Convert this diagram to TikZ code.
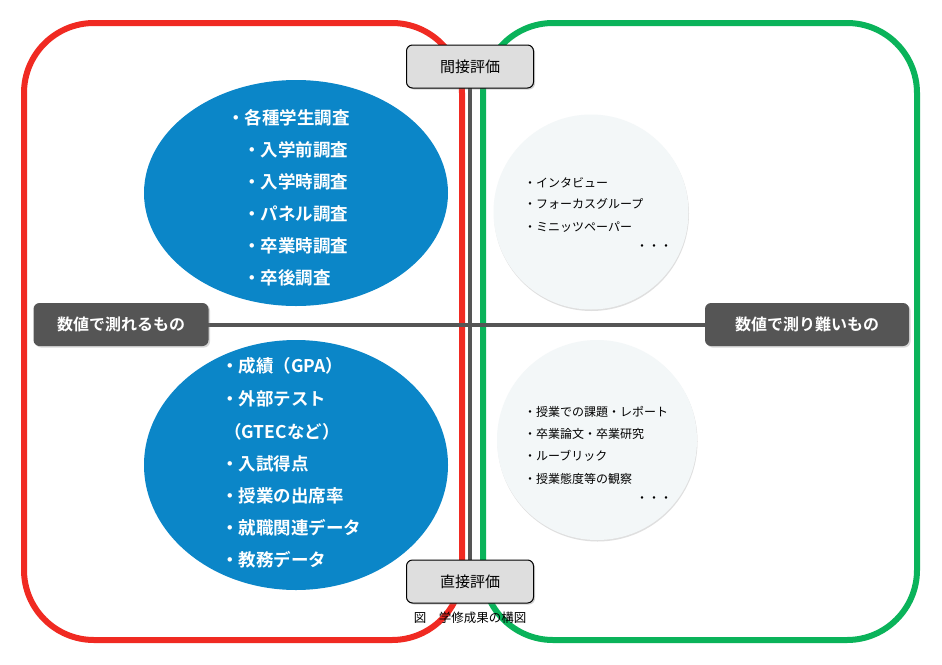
\documentclass[tikz,border=0pt]{standalone}
\usepackage{fontspec}
\newfontfamily\jp{Noto Sans CJK JP}
\newfontfamily\jpb{Noto Sans CJK JP Bold}
\usetikzlibrary{shadows,shapes.geometric}
\definecolor{redf}{HTML}{F02A22}
\definecolor{greenf}{HTML}{0AB35A}
\definecolor{bluee}{HTML}{0B86C8}
\definecolor{darkg}{HTML}{555555}
\definecolor{lightg}{HTML}{DEDEDE}
\definecolor{circ}{HTML}{F3F7F8}
\tikzset{
  frame/.style={line width=6pt, rounded corners=70pt},
  graybox/.style={draw=black, line width=1pt, fill=lightg, rounded corners=6pt, minimum width=127pt, minimum height=43pt, font=\jp\fontsize{15}{15}\selectfont, drop shadow={opacity=0.35, shadow xshift=1.5pt, shadow yshift=-1.5pt}},
  darkbox/.style={fill=darkg, rounded corners=6pt, minimum height=43pt, text=white, font=\jpb\fontsize{16}{16}\selectfont, drop shadow={opacity=0.3, shadow xshift=1.5pt, shadow yshift=-1.5pt}},
  axis/.style={draw=darkg, line width=4pt},
  bigtxt/.style={anchor=west, text=white, font=\jpb\fontsize{17.5}{17.5}\selectfont, inner sep=0pt},
  smalltxt/.style={anchor=west, text=black, font=\jp\fontsize{12}{12}\selectfont, inner sep=0pt},
  blueell/.style={ellipse, fill=bluee, inner sep=0pt},
  lightcirc/.style={circle, fill=circ, inner sep=0pt, drop shadow={opacity=0.25, shadow xshift=0.5pt, shadow yshift=-1.5pt}}
}
\begin{document}
\begin{tikzpicture}[x=1pt, y=-1pt]
\useasboundingbox (0,0) rectangle (942,664);
\fill[white] (0,0) rectangle (942,664);
% frames
\draw[frame, draw=redf] (24,23) rectangle (462,640);
\draw[frame, draw=greenf] (483,23) rectangle (917,640);
% box centres (line endpoints)
\path (470,66.5) coordinate (topc);
\path (470,581.5) coordinate (botc);
\path (121,324.5) coordinate (leftc);
\path (807,324.5) coordinate (rightc);
% axes
\draw[axis] (topc) -- (botc);
\draw[axis] (leftc) -- (rightc);
% ellipses
\node[blueell, minimum width=304pt, minimum height=226pt] (e1) at (296,193) {};
\node[blueell, minimum width=304pt, minimum height=250pt] (e2) at (296,465) {};
\node[lightcirc, minimum size=195pt] (c1) at (591,212) {};
\node[lightcirc, minimum size=200pt] (c2) at (597,440) {};
% top ellipse text
\node[bigtxt] (t0) at (227,118) {・各種学生調査};
\node[bigtxt] (t1) at (243,150) {・入学前調査};
\node[bigtxt] (t2) at (243,182) {・入学時調査};
\node[bigtxt] (t3) at (243,214) {・パネル調査};
\node[bigtxt] (t4) at (243,246) {・卒業時調査};
\node[bigtxt] (t5) at (243,278) {・卒後調査};
% bottom ellipse text
\node[bigtxt] (b0) at (221,366) {・成績（GPA）};
\node[bigtxt] (b1) at (221,399) {・外部テスト};
\node[bigtxt] (b2) at (224,432) {（GTECなど）};
\node[bigtxt] (b3) at (221,464) {・入試得点};
\node[bigtxt] (b4) at (221,496) {・授業の出席率};
\node[bigtxt] (b5) at (221,528) {・就職関連データ};
\node[bigtxt] (b6) at (221,560) {・教務データ};
% right circles text
\node[smalltxt] (r0) at (524,183) {・インタビュー};
\node[smalltxt] (r1) at (524,204) {・フォーカスグループ};
\node[smalltxt] (r2) at (524,227) {・ミニッツペーパー};
\node[smalltxt] (r3) at (636,248) {・・・};
\node[smalltxt] (s0) at (524,412) {・授業での課題・レポート};
\node[smalltxt] (s1) at (524,434) {・卒業論文・卒業研究};
\node[smalltxt] (s2) at (524,456) {・ルーブリック};
\node[smalltxt] (s3) at (524,479) {・授業態度等の観察};
\node[smalltxt] (s4) at (636,500) {・・・};
% boxes
\node[graybox] (top) at (topc) {間接評価};
\node[graybox] (bot) at (botc) {直接評価};
\node[darkbox, minimum width=175pt] (left) at (leftc) {数値で測れるもの};
\node[darkbox, minimum width=204pt] (right) at (rightc) {数値で測り難いもの};
\node[font=\jp\fontsize{12.5}{12.5}\selectfont, inner sep=0pt] (cap) at (470,618) {図　学修成果の構図};
\end{tikzpicture}
\end{document}
